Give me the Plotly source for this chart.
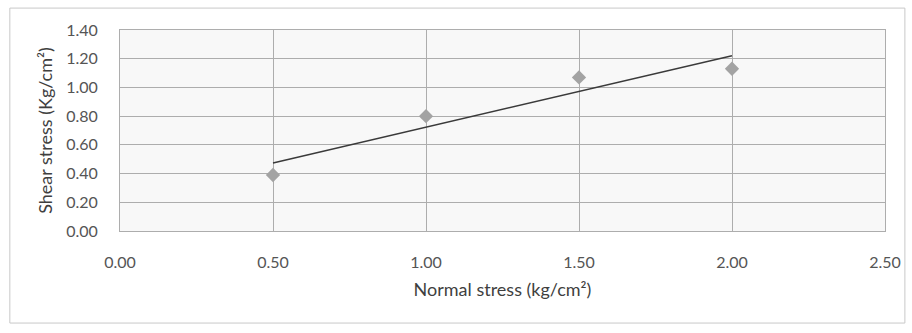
import numpy as np
import plotly.graph_objects as go

# Direct shear test results
normal_stress = [0.50, 1.00, 1.50, 2.00]
shear_stress = [0.39, 0.80, 1.07, 1.13]

# Linear (Mohr-Coulomb) trendline through the test points
slope, intercept = np.polyfit(normal_stress, shear_stress, 1)
fit_x = [normal_stress[0], normal_stress[-1]]
fit_y = [slope * x + intercept for x in fit_x]

font_family = "Lato, 'Open Sans', sans-serif"
text_color = "#555555"
grid_color = "#adadad"

fig = go.Figure()
fig.add_trace(go.Scatter(
    x=normal_stress, y=shear_stress, mode="markers",
    marker=dict(symbol="diamond", size=11, color="#a3a3a3"),
    showlegend=False,
))
fig.add_trace(go.Scatter(
    x=fit_x, y=fit_y, mode="lines",
    line=dict(color="#3a3a3a", width=1.4),
    showlegend=False,
))

fig.update_layout(
    width=912, height=333,
    margin=dict(l=120, r=27, t=30, b=102),
    paper_bgcolor="white", plot_bgcolor="#f8f8f8",
    font=dict(family=font_family, size=16, color=text_color),
    shapes=[dict(type="rect", xref="paper", yref="paper",
                 x0=-0.144, x1=1.026, y0=-0.458, y1=1.109,
                 line=dict(color="#c8c8c8", width=1))],
)
fig.update_xaxes(
    range=[0, 2.5], tickvals=[0, 0.5, 1.0, 1.5, 2.0, 2.5], tickformat=".2f",
    showgrid=True, gridcolor=grid_color, gridwidth=1,
    zeroline=False, showline=True, linecolor=grid_color, mirror=True,
    ticks="", ticklabelstandoff=17,
    title=dict(text="Normal stress (kg/cm²)", standoff=13,
               font=dict(size=18, color="#3f3f3f")),
)
fig.update_yaxes(
    range=[0, 1.4], dtick=0.2, tickformat=".2f",
    showgrid=True, gridcolor=grid_color, gridwidth=1,
    zeroline=False, showline=True, linecolor=grid_color, mirror=True,
    ticks="", ticklabelstandoff=18,
    title=dict(text="Shear stress (Kg/cm²)", standoff=8,
               font=dict(size=18, color="#3f3f3f")),
)

fig.write_html("out.html")
